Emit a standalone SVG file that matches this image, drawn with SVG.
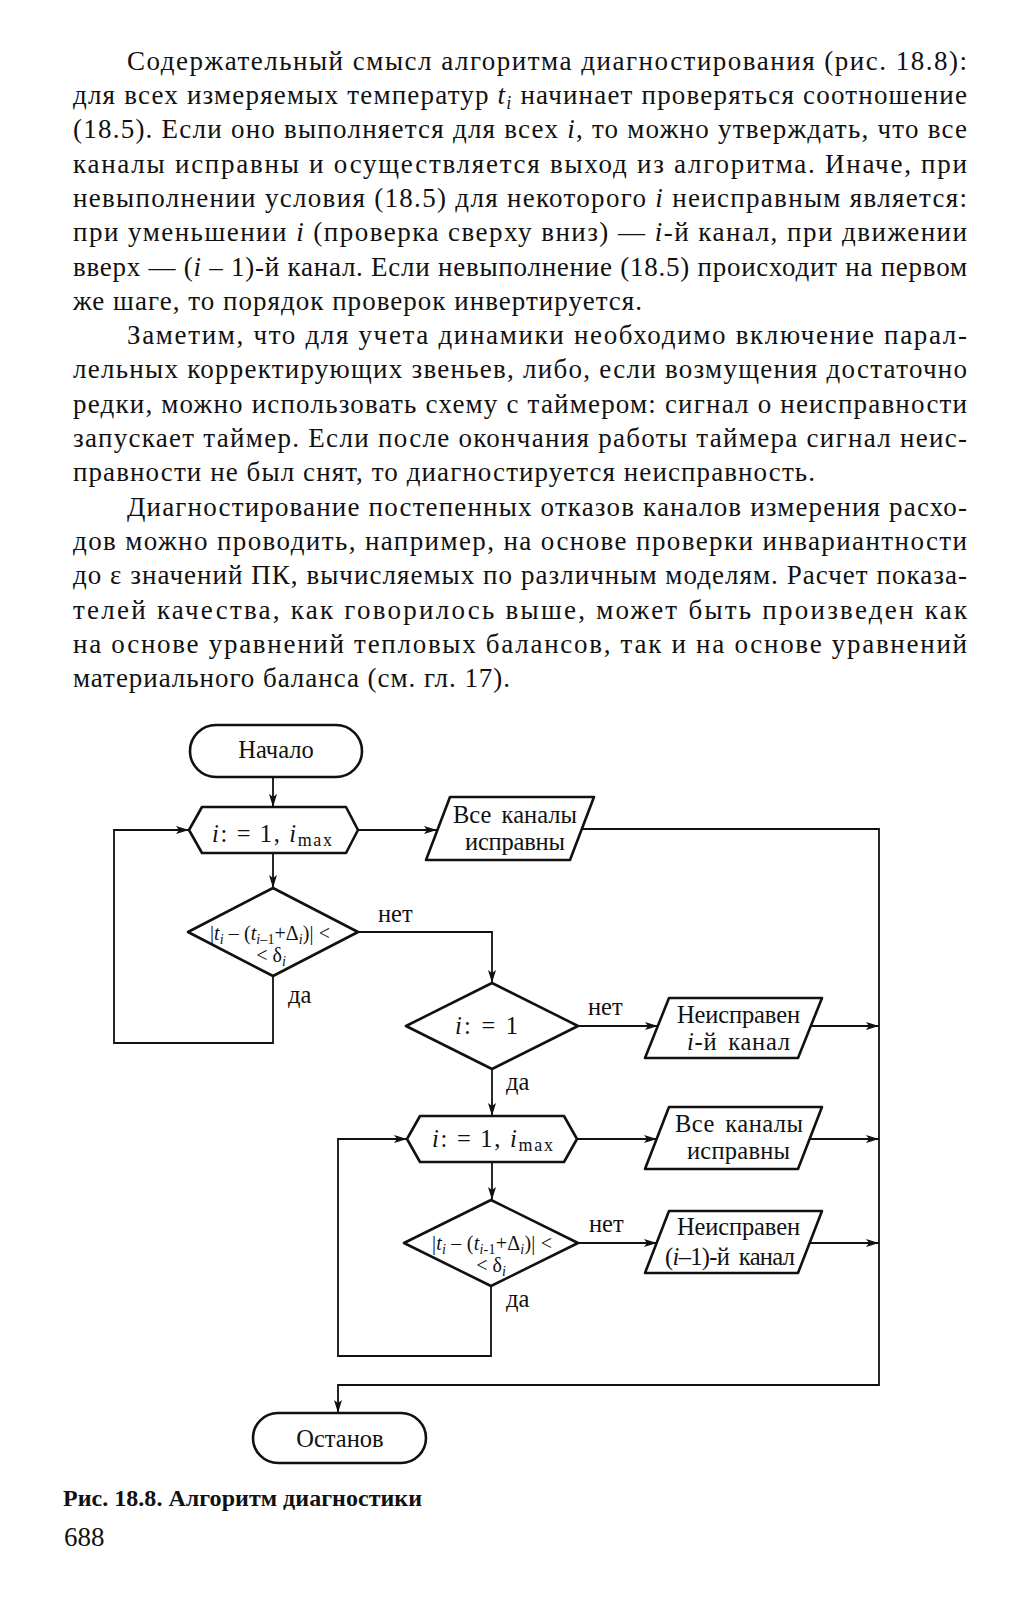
<svg xmlns="http://www.w3.org/2000/svg" width="1023" height="1600" viewBox="0 0 1023 1600">
<style>
text{font-family:"Liberation Serif","Times New Roman",serif;fill:#111}
.p{font-size:27px}
.n{font-size:24.5px}
.d{font-size:20px}
.s{font-size:14px}
.i{font-style:italic}
.box{fill:#fff;stroke:#111;stroke-width:2.6;stroke-linejoin:round}
.c{fill:none;stroke:#111;stroke-width:1.8}
.cap{font-size:24px;font-weight:bold}
</style>
<defs>
<marker id="ar" markerUnits="userSpaceOnUse" markerWidth="14" markerHeight="10" refX="13" refY="4" orient="auto">
<path d="M0,0 L13,4 L0,8 L3,4 z" fill="#111"/>
</marker>
</defs>
<rect width="1023" height="1600" fill="#fff"/>

<g id="body-text" class="p">
<text x="127" y="69.5" textLength="840" lengthAdjust="spacing">Содержательный смысл алгоритма диагностирования (рис. 18.8):</text>
<text x="73" y="104" textLength="894" lengthAdjust="spacing">для всех измеряемых температур <tspan class="i">t</tspan><tspan class="i" font-size="18" dy="5">i</tspan><tspan dy="-5"> начинает проверяться соотношение</tspan></text>
<text x="73" y="138" textLength="894" lengthAdjust="spacing">(18.5). Если оно выполняется для всех <tspan class="i">i</tspan>, то можно утверждать, что все</text>
<text x="73" y="172.5" textLength="894" lengthAdjust="spacing">каналы исправны и осуществляется выход из алгоритма. Иначе, при</text>
<text x="73" y="207" textLength="894" lengthAdjust="spacing">невыполнении условия (18.5) для некоторого <tspan class="i">i</tspan> неисправным является:</text>
<text x="73" y="241" textLength="894" lengthAdjust="spacing">при уменьшении <tspan class="i">i</tspan> (проверка сверху вниз) — <tspan class="i">i</tspan>-й канал, при движении</text>
<text x="73" y="275.5" textLength="894" lengthAdjust="spacing">вверх — (<tspan class="i">i</tspan> – 1)-й канал. Если невыполнение (18.5) происходит на первом</text>
<text x="73" y="309.5" textLength="569" lengthAdjust="spacing">же шаге, то порядок проверок инвертируется.</text>
<text x="127" y="344" textLength="840" lengthAdjust="spacing">Заметим, что для учета динамики необходимо включение парал-</text>
<text x="73" y="378" textLength="894" lengthAdjust="spacing">лельных корректирующих звеньев, либо, если возмущения достаточно</text>
<text x="73" y="412.5" textLength="894" lengthAdjust="spacing">редки, можно использовать схему с таймером: сигнал о неисправности</text>
<text x="73" y="447" textLength="894" lengthAdjust="spacing">запускает таймер. Если после окончания работы таймера сигнал неис-</text>
<text x="73" y="481" textLength="742" lengthAdjust="spacing">правности не был снят, то диагностируется неисправность.</text>
<text x="127" y="515.5" textLength="840" lengthAdjust="spacing">Диагностирование постепенных отказов каналов измерения расхо-</text>
<text x="73" y="550" textLength="894" lengthAdjust="spacing">дов можно проводить, например, на основе проверки инвариантности</text>
<text x="73" y="584" textLength="894" lengthAdjust="spacing">до ε значений ПК, вычисляемых по различным моделям. Расчет показа-</text>
<text x="73" y="618.5" textLength="894" lengthAdjust="spacing">телей качества, как говорилось выше, может быть произведен как</text>
<text x="73" y="652.5" textLength="894" lengthAdjust="spacing">на основе уравнений тепловых балансов, так и на основе уравнений</text>
<text x="73" y="687" textLength="437" lengthAdjust="spacing">материального баланса (см. гл. 17).</text>
</g>

<g id="connectors" class="c">
<line x1="273" y1="777" x2="273" y2="807" marker-end="url(#ar)"/>
<line x1="273" y1="853" x2="273" y2="888" marker-end="url(#ar)"/>
<line x1="358" y1="830" x2="437" y2="830" marker-end="url(#ar)"/>
<path d="M273,976 V1043 H114 V830 H189" marker-end="url(#ar)"/>
<path d="M358,932 H492 V983" marker-end="url(#ar)"/>
<line x1="578" y1="1026" x2="658" y2="1026" marker-end="url(#ar)"/>
<line x1="492" y1="1069" x2="492" y2="1116" marker-end="url(#ar)"/>
<line x1="577" y1="1139" x2="657" y2="1139" marker-end="url(#ar)"/>
<path d="M491,1286 V1356 H338 V1139 H407" marker-end="url(#ar)"/>
<line x1="492" y1="1162" x2="492" y2="1200" marker-end="url(#ar)"/>
<line x1="578" y1="1243" x2="657" y2="1243" marker-end="url(#ar)"/>
<line x1="811" y1="1026" x2="879" y2="1026" marker-end="url(#ar)"/>
<line x1="810" y1="1139" x2="879" y2="1139" marker-end="url(#ar)"/>
<line x1="810" y1="1243" x2="879" y2="1243" marker-end="url(#ar)"/>
<path d="M582,829 H879 V1385 H338 V1413" marker-end="url(#ar)"/>
</g>

<g id="labels" class="n">
<text x="378" y="922">нет</text>
<text x="288" y="1003">да</text>
<text x="588" y="1015">нет</text>
<text x="506" y="1090">да</text>
<text x="589" y="1232">нет</text>
<text x="506" y="1307">да</text>
</g>

<g id="start">
<rect class="box" x="190" y="725" width="172" height="52" rx="26"/>
<text class="n" x="276" y="758" text-anchor="middle">Начало</text>
</g>

<g id="loop1">
<polygon class="box" points="189,830 202,807 346,807 358,830 346,853 202,853"/>
<text class="n" x="212" y="842" textLength="120" lengthAdjust="spacing"><tspan class="i">i</tspan>:  =  1,  <tspan class="i">i</tspan><tspan font-size="18" dy="4">max</tspan></text>
</g>

<g id="out1">
<polygon class="box" points="450,797 594,797 570,860 426,860"/>
<text class="n" x="453" y="823" textLength="124" lengthAdjust="spacing" word-spacing="4">Все каналы</text>
<text class="n" x="465" y="850" textLength="100" lengthAdjust="spacing">исправны</text>
</g>

<g id="cond1">
<polygon class="box" points="273,888 358,932 273,976 188,932"/>
<text class="d" x="210" y="940" textLength="120" lengthAdjust="spacing">|<tspan class="i">t</tspan><tspan class="i s" dy="4">i</tspan><tspan dy="-4"> – (</tspan><tspan class="i">t</tspan><tspan class="s" dy="4"><tspan class="i">i</tspan>–1</tspan><tspan dy="-4">+Δ</tspan><tspan class="i s" dy="4">i</tspan><tspan dy="-4">)| &lt;</tspan></text>
<text class="d" x="271" y="962" text-anchor="middle">&lt; δ<tspan class="i s" dy="4">i</tspan></text>
</g>

<g id="cond2">
<polygon class="box" points="492,983 578,1026 492,1069 406,1026"/>
<text class="n" x="455" y="1034" textLength="63" lengthAdjust="spacing"><tspan class="i">i</tspan>:  =  1</text>
</g>

<g id="out2">
<polygon class="box" points="669,998 822,998 798,1058 645,1058"/>
<text class="n" x="677" y="1023" textLength="123" lengthAdjust="spacing">Неисправен</text>
<text class="n" x="687" y="1050" textLength="103" lengthAdjust="spacing" word-spacing="4"><tspan class="i">i</tspan>-й канал</text>
</g>

<g id="loop2">
<polygon class="box" points="407,1139 420,1116 564,1116 577,1139 564,1162 420,1162"/>
<text class="n" x="432" y="1147" textLength="121" lengthAdjust="spacing"><tspan class="i">i</tspan>:  =  1,  <tspan class="i">i</tspan><tspan font-size="18" dy="4">max</tspan></text>
</g>

<g id="out3">
<polygon class="box" points="669,1107 822,1107 798,1169 645,1169"/>
<text class="n" x="675" y="1132" textLength="128" lengthAdjust="spacing" word-spacing="4">Все каналы</text>
<text class="n" x="687" y="1159" textLength="103" lengthAdjust="spacing">исправны</text>
</g>

<g id="cond3">
<polygon class="box" points="491,1200 578,1243 491,1286 404,1243"/>
<text class="d" x="432" y="1250" textLength="120" lengthAdjust="spacing">|<tspan class="i">t</tspan><tspan class="i s" dy="4">i</tspan><tspan dy="-4"> – (</tspan><tspan class="i">t</tspan><tspan class="s" dy="4"><tspan class="i">i</tspan>-1</tspan><tspan dy="-4">+Δ</tspan><tspan class="i s" dy="4">i</tspan><tspan dy="-4">)| &lt;</tspan></text>
<text class="d" x="491" y="1272" text-anchor="middle">&lt; δ<tspan class="i s" dy="4">i</tspan></text>
</g>

<g id="out4">
<polygon class="box" points="669,1211 822,1211 798,1273 645,1273"/>
<text class="n" x="677" y="1235" textLength="123" lengthAdjust="spacing">Неисправен</text>
<text class="n" x="665" y="1265" textLength="130" lengthAdjust="spacing" word-spacing="4">(<tspan class="i">i</tspan>–1)-й канал</text>
</g>

<g id="stop">
<rect class="box" x="253" y="1413" width="173" height="50" rx="25"/>
<text class="n" x="340" y="1447" text-anchor="middle">Останов</text>
</g>

<g id="caption">
<text class="cap" x="63" y="1506" textLength="359" lengthAdjust="spacing">Рис. 18.8. Алгоритм диагностики</text>
<text x="64" y="1546" font-size="27">688</text>
</g>
</svg>
